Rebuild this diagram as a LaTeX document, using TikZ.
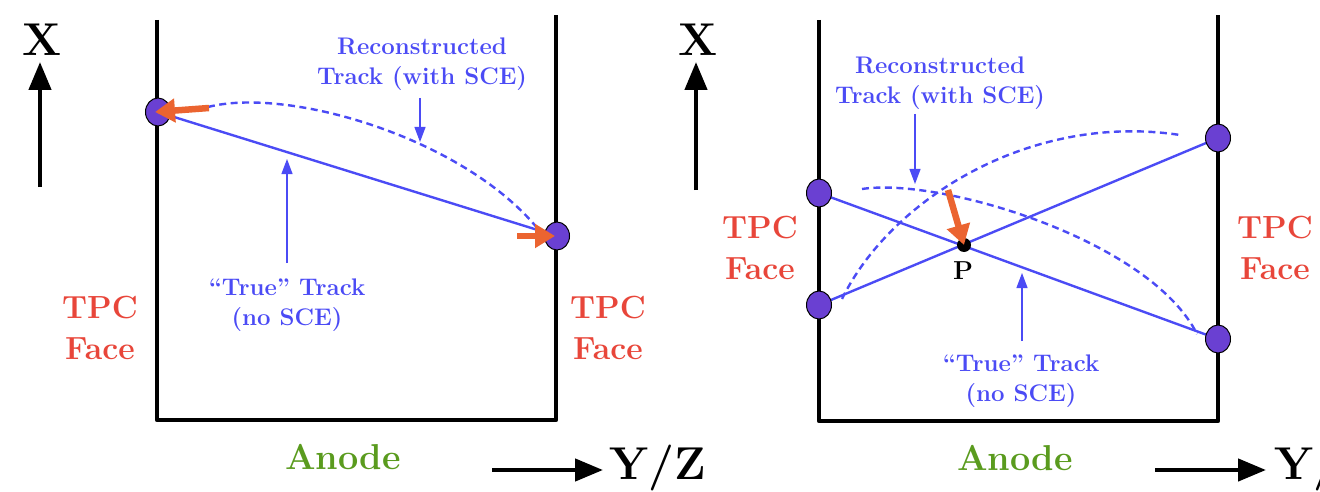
\documentclass[tikz,border=0pt]{standalone}
\usetikzlibrary{shapes.geometric,arrows.meta}
\definecolor{trk}{HTML}{4B4BF5}
\definecolor{org}{HTML}{EB6430}
\definecolor{tpcred}{HTML}{E8463A}
\definecolor{anodegreen}{HTML}{5A9B1E}
\definecolor{dotfill}{HTML}{6A40D2}
\tikzset{
  wall/.style={line width=4.8pt, black, line join=round},
  axisarr/.style={line width=4.5pt, black, -{Triangle[length=28pt,width=22pt]}},
  trackline/.style={trk, line width=2.4pt},
  recotrack/.style={trk, line width=2.4pt, dash pattern=on 7pt off 4.5pt},
  pointer/.style={trk, line width=1.2pt, -{Triangle[length=15pt,width=11pt]}},
  shiftarr/.style={org, line width=6.5pt, -{Triangle[length=20pt,width=23pt]}},
  endpt/.style={ellipse, draw=black, line width=1pt, fill=dotfill, minimum width=25pt, minimum height=28pt, inner sep=0pt},
  pdot/.style={circle, fill=black, minimum size=14pt, inner sep=0pt},
  lbl/.style={trk, font=\bfseries\fontsize{24}{30}\selectfont, align=center},
  tpc/.style={tpcred, font=\bfseries\fontsize{32}{41}\selectfont, align=center},
  anode/.style={anodegreen, font=\bfseries\fontsize{36}{40}\selectfont},
  axislbl/.style={black, font=\bfseries\fontsize{46}{50}\selectfont},
  plbl/.style={black, font=\bfseries\fontsize{26}{28}\selectfont}
}
\begin{document}
\begin{tikzpicture}[x=1pt,y=-1pt]
\useasboundingbox (0,0) rectangle (1320,492);
% ---------------- left panel ----------------
\coordinate (Alt) at (157,20);
\coordinate (Alb) at (157,420);
\coordinate (Arb) at (556,420);
\coordinate (Art) at (556,15);
\draw[wall] (Alt) -- (Alb) -- (Arb) -- (Art);
% axes
\coordinate (Axs) at (40,187);
\coordinate (Axe) at (40,62);
\draw[axisarr] (Axs) -- (Axe);
\node[axislbl] (AX) at (42,40) {X};
\coordinate (Ays) at (492,470);
\coordinate (Aye) at (603,470);
\draw[axisarr] (Ays) -- (Aye);
\node[axislbl] (AYZ) at (658,468) {Y/Z};
% tracks
\coordinate (Ac1) at (158,112);
\coordinate (Ac2) at (557,236);
\draw[trackline] (Ac1) -- (Ac2);
\coordinate (Ar0) at (208,107);
\coordinate (Ar1) at (542,234);
\draw[recotrack] (Ar0) .. controls (290,86) and (470,140) .. (Ar1);
\node[endpt] (AP1) at (Ac1) {};
\node[endpt] (AP2) at (Ac2) {};
\coordinate (As1) at (209,108);
\coordinate (As2) at (517,236);
\draw[shiftarr] (As1) -- ([xshift=-3pt]AP1.center);
\draw[shiftarr] (As2) -- ([xshift=-2pt]AP2.center);
% labels
\node[lbl] (Areco) at (422,64) {Reconstructed\\Track (with SCE)};
\coordinate (Arp1) at (420,98);
\coordinate (Arp2) at (420,142);
\draw[pointer] (Arp1) -- (Arp2);
\node[lbl] (Atrue) at (287,305) {``True'' Track\\(no SCE)};
\coordinate (Atp1) at (287,263);
\coordinate (Atp2) at (287,159);
\draw[pointer] (Atp1) -- (Atp2);
\node[tpc] (Atpcl) at (100,328) {TPC\\Face};
\node[tpc] (Atpcr) at (608,328) {TPC\\Face};
\node[anode] (Aan) at (343,457) {Anode};
% ---------------- right panel ----------------
\coordinate (Blt) at (819,20);
\coordinate (Blb) at (819,421);
\coordinate (Brb) at (1218,421);
\coordinate (Brt) at (1218,15);
\draw[wall] (Blt) -- (Blb) -- (Brb) -- (Brt);
\coordinate (Bxs) at (696,190);
\coordinate (Bxe) at (696,62);
\draw[axisarr] (Bxs) -- (Bxe);
\node[axislbl] (BX) at (698,40) {X};
\coordinate (Bys) at (1155,470);
\coordinate (Bye) at (1266,470);
\draw[axisarr] (Bys) -- (Bye);
\node[axislbl, anchor=west] (BYZ) at (1271,468) {Y/Z};
% tracks
\coordinate (Bc1) at (819,193);
\coordinate (Bc2) at (1218,339);
\coordinate (Bc3) at (819,305);
\coordinate (Bc4) at (1218,138);
\draw[trackline] (Bc1) -- (Bc2);
\draw[trackline] (Bc3) -- (Bc4);
\coordinate (Bd1s) at (862,189);
\coordinate (Bd1e) at (1197,334);
\draw[recotrack] (Bd1s) .. controls (940,177) and (1150,240) .. (Bd1e);
\coordinate (Bd2s) at (842,299);
\coordinate (Bd2e) at (1180,135);
\draw[recotrack] (Bd2s) .. controls (890,200) and (1030,112) .. (Bd2e);
\node[endpt] (BP1) at (Bc1) {};
\node[endpt] (BP2) at (Bc2) {};
\node[endpt] (BP3) at (Bc3) {};
\node[endpt] (BP4) at (Bc4) {};
\node[pdot] (BPt) at (964,245) {};
\coordinate (Bs1) at (948,190);
\draw[shiftarr] (Bs1) -- (BPt.center);
\node[plbl] (BPl) at (963,271) {P};
% labels
\node[lbl] (Breco) at (940,83) {Reconstructed\\Track (with SCE)};
\coordinate (Brp1) at (915,114);
\coordinate (Brp2) at (915,184);
\draw[pointer] (Brp1) -- (Brp2);
\node[lbl] (Btrue) at (1021,381) {``True'' Track\\(no SCE)};
\coordinate (Btp1) at (1022,341);
\coordinate (Btp2) at (1022,273);
\draw[pointer] (Btp1) -- (Btp2);
\node[tpc] (Btpcl) at (760,248) {TPC\\Face};
\node[tpc] (Btpcr) at (1275,248) {TPC\\Face};
\node[anode] (Ban) at (1015,458) {Anode};
\end{tikzpicture}
\end{document}
